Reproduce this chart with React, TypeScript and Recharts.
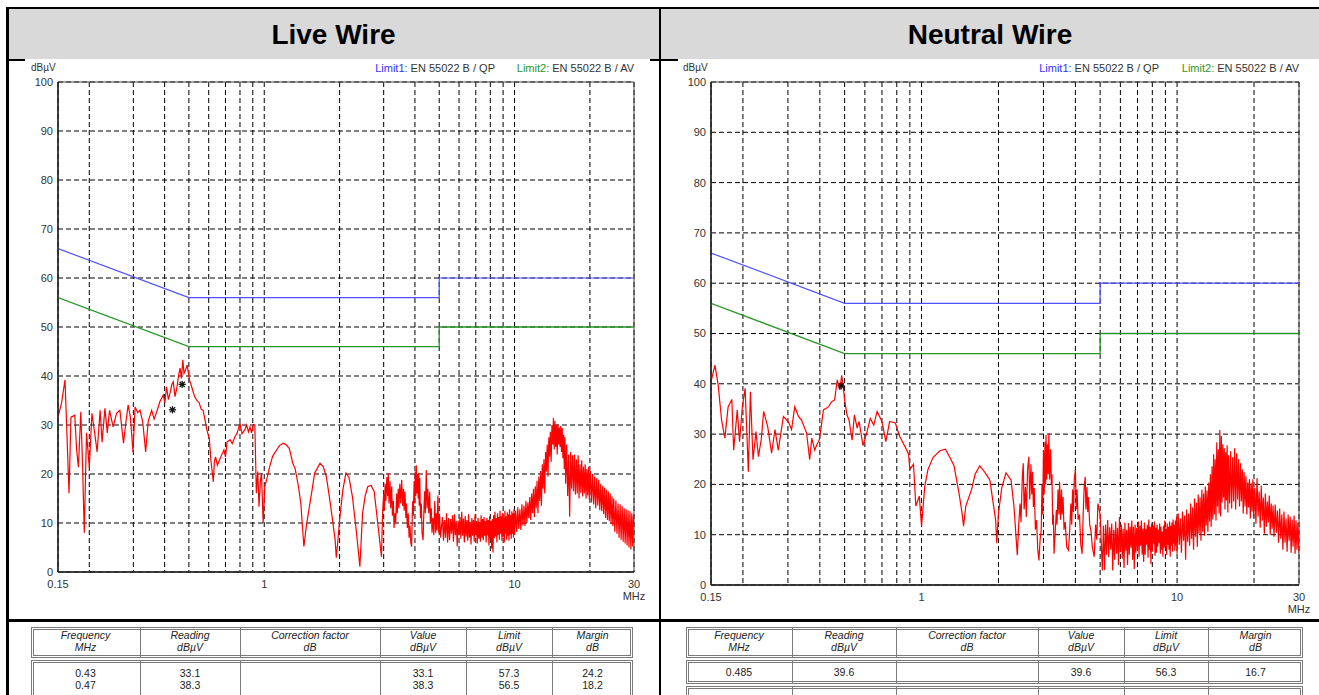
import React from 'react';
import { ComposedChart, Line, XAxis, YAxis, CartesianGrid, ReferenceArea } from 'recharts';

type Pt = [number, number];

const FONT = '"Liberation Sans", Arial, Helvetica, sans-serif';

// ---- axes ----
const gridFreqs = [0.15, 0.2, 0.3, 0.4, 0.5, 0.6, 0.7, 0.8, 0.9, 1, 2, 3, 4, 5, 6, 7, 8, 9, 10, 20, 30];
const labeledFreqs = [0.15, 1, 10, 30];
const levelTicks = [0, 10, 20, 30, 40, 50, 60, 70, 80, 90, 100];

// ---- limits (MHz, dBµV) ----
const qpLimit: Pt[] = [[0.15, 66], [0.5, 56], [5, 56], [5, 60], [30, 60]];
const avLimit: Pt[] = [[0.15, 56], [0.5, 46], [5, 46], [5, 50], [30, 50]];

// ---- live wire scan (MHz, dBµV) ----
const liveScan: Pt[] = [
  [0.15, 31.6], [0.155, 34.5], [0.16, 39.2], [0.166, 16.1], [0.169, 31.6], [0.175, 32.0], [0.178, 25], [0.181, 21.4],
  [0.185, 32.7], [0.188, 22], [0.191, 8.0], [0.195, 28.4], [0.2, 21.4], [0.205, 32.4], [0.21, 28.5], [0.215, 24.5],
  [0.221, 33.0], [0.225, 26.5], [0.231, 33.4], [0.236, 28.4], [0.241, 33.0], [0.249, 29.6], [0.257, 32.4], [0.265, 33.0],
  [0.274, 26.3], [0.28, 30.5], [0.286, 34.1], [0.292, 31.5], [0.299, 24.5], [0.305, 33.7], [0.312, 32.5], [0.319, 33.0],
  [0.327, 30.6], [0.336, 24.5], [0.344, 30.8], [0.355, 33.0], [0.363, 31.2], [0.372, 32.7], [0.383, 34.8], [0.395, 36.1],
  [0.401, 34.5], [0.407, 37.8], [0.414, 35.2], [0.42, 36.4], [0.427, 38.2], [0.433, 38.8], [0.44, 35.8], [0.447, 37.4],
  [0.455, 40.2], [0.461, 41.6], [0.467, 39.5], [0.473, 43.3], [0.478, 40.5], [0.483, 41.0], [0.492, 42.2], [0.503, 39.2],
  [0.515, 37.5], [0.527, 35.8], [0.538, 35.0], [0.55, 34.5], [0.56, 33.2], [0.57, 33.0], [0.58, 31.0], [0.59, 29.0],
  [0.604, 27.0], [0.612, 22.9], [0.626, 18.4], [0.632, 22.5], [0.639, 23.5], [0.65, 21.8], [0.663, 22.9], [0.675, 23.8],
  [0.69, 24.9], [0.7, 23.5], [0.71, 26.5], [0.73, 27.0], [0.745, 26.2], [0.764, 27.6], [0.78, 28.4], [0.8, 30.4],
  [0.815, 28.2], [0.836, 29.0], [0.85, 30.0], [0.865, 28.6], [0.877, 29.6], [0.89, 28.4], [0.905, 30.1], [0.917, 30.0],
  [0.93, 16.1], [0.942, 20.5], [0.953, 13.3], [0.965, 18.5], [0.975, 20.2], [0.99, 10.0], [1.005, 17.4], [1.03, 19.5],
  [1.05, 21.4], [1.08, 23.6], [1.12, 24.9], [1.15, 25.8], [1.19, 26.3], [1.22, 26.0], [1.26, 25.2], [1.3, 22.2],
  [1.33, 21.0], [1.37, 17.4], [1.4, 14.0], [1.42, 9.5], [1.44, 5.2], [1.47, 9.0], [1.5, 12.0], [1.55, 16.5],
  [1.59, 20.2], [1.63, 21.2], [1.67, 22.2], [1.72, 21.5], [1.77, 19.5], [1.82, 15.4], [1.87, 11.0], [1.92, 6.5],
  [1.94, 2.9], [1.97, 6.5], [2.0, 10.6], [2.06, 16.7], [2.12, 20.2], [2.18, 19.3], [2.25, 15.4], [2.33, 8.6],
  [2.41, 1.1], [2.47, 12.0], [2.53, 15.5], [2.59, 17.4], [2.67, 17.7], [2.75, 16.4], [2.85, 9.3], [2.94, 3.1],
  [2.97, 12.0], [3.0, 16.0], [3.02, 12.5], [3.04, 18.0], [3.06, 14.5], [3.09, 19.4], [3.11, 15.5], [3.13, 20.2],
  [3.15, 14.0], [3.18, 18.5], [3.2, 13.0], [3.23, 17.5], [3.25, 11.5], [3.28, 14.5], [3.3, 9.0], [3.33, 12.0],
  [3.35, 10.0], [3.38, 16.0], [3.4, 12.0], [3.43, 17.0], [3.45, 13.0], [3.48, 18.0], [3.51, 14.0], [3.54, 18.8],
  [3.57, 13.5], [3.6, 17.0], [3.62, 12.5], [3.65, 16.4], [3.68, 11.0], [3.7, 14.0], [3.73, 9.0], [3.76, 12.0],
  [3.79, 7.0], [3.82, 9.5], [3.85, 6.0], [3.88, 5.2], [3.9, 11.0], [3.92, 14.5], [3.94, 11.5], [3.97, 18.5],
  [3.99, 14.0], [4.01, 20.5], [4.03, 15.5], [4.05, 21.8], [4.07, 16.0], [4.1, 20.0], [4.12, 15.0], [4.14, 20.2],
  [4.16, 13.5], [4.18, 19.2], [4.21, 11.0], [4.24, 14.0], [4.27, 8.0], [4.31, 6.5], [4.34, 12.0], [4.37, 16.5],
  [4.4, 12.0], [4.44, 20.8], [4.47, 13.0], [4.5, 17.0], [4.54, 12.0], [4.58, 16.4], [4.61, 10.0], [4.65, 13.0],
  [4.68, 8.0], [4.72, 11.0], [4.76, 7.5], [4.8, 14.5], [4.84, 8.0], [4.87, 12.0], [4.9, 8.5], [4.94, 15.6],
  [4.98, 8.0], [5.02, 11.5], [5.06, 7.0], [5.1, 9.0],
  [5.15, 11.2], [5.2, 6.4], [5.25, 10.6], [5.3, 7.0], [5.35, 12.0], [5.4, 6.0], [5.45, 11.0], [5.5, 6.5],
  [5.55, 10.8], [5.6, 7.8], [5.65, 11.6], [5.7, 6.2], [5.75, 11.8], [5.8, 7.5], [5.85, 10.4], [5.9, 5.2],
  [5.95, 10.5], [6.0, 7.6], [6.05, 11.2], [6.1, 6.8], [6.15, 12.3], [6.2, 7.4], [6.25, 10.9], [6.3, 6.0],
  [6.35, 11.4], [6.4, 7.2], [6.45, 10.6], [6.5, 6.4], [6.55, 11.8], [6.6, 7.0], [6.65, 10.2], [6.7, 5.6],
  [6.75, 11.0], [6.8, 7.4], [6.85, 10.6], [6.9, 6.2], [6.95, 11.8], [7.0, 7.5], [7.05, 10.4], [7.1, 5.8],
  [7.15, 11.0], [7.2, 6.8], [7.25, 10.2], [7.3, 6.2], [7.35, 11.6], [7.4, 7.0], [7.45, 10.8], [7.5, 6.5],
  [7.55, 11.2], [7.6, 7.4], [7.65, 10.4], [7.7, 6.0], [7.75, 11.0], [7.8, 7.5], [7.85, 10.6], [7.9, 5.4],
  [7.95, 11.4], [8.0, 6.8], [8.05, 10.4], [8.1, 4.8], [8.15, 10.8], [8.2, 4.0], [8.25, 11.6], [8.3, 6.9],
  [8.35, 12.3], [8.4, 7.3], [8.45, 11.0], [8.5, 6.0], [8.55, 12.0], [8.6, 7.6], [8.65, 11.2], [8.7, 6.6],
  [8.75, 12.5], [8.8, 7.8], [8.85, 11.4], [8.9, 6.4], [8.95, 12.0], [9.0, 7.2], [9.05, 11.0], [9.1, 6.0],
  [9.15, 12.5], [9.2, 7.8], [9.25, 11.4], [9.3, 6.6], [9.35, 12.2], [9.4, 7.4], [9.45, 11.8], [9.5, 6.4],
  [9.55, 12.8], [9.6, 7.6], [9.65, 11.6], [9.7, 6.8], [9.75, 12.4], [9.8, 7.8], [9.85, 12.0], [9.9, 7.0],
  [9.95, 12.8], [10.0, 7.6],
  [10.1, 12.5], [10.2, 8.2], [10.3, 13.2], [10.4, 8.8], [10.5, 12.8], [10.6, 8.6], [10.7, 13.8], [10.8, 9.5],
  [10.9, 13.5], [11.0, 9.4], [11.1, 14.5], [11.2, 10.0], [11.3, 14.2], [11.4, 11.0], [11.5, 15.3], [11.6, 10.6],
  [11.7, 16.0], [11.8, 12.0], [11.9, 17.0], [12.0, 11.2], [12.1, 17.5], [12.2, 13.0], [12.3, 18.6], [12.4, 12.0],
  [12.5, 19.5], [12.6, 14.5], [12.7, 20.6], [12.8, 13.5], [12.9, 22.0], [13.0, 17.0], [13.1, 23.0], [13.2, 16.0],
  [13.3, 24.5], [13.4, 20.5], [13.5, 26.0], [13.6, 19.5], [13.7, 27.5], [13.8, 23.5], [13.9, 28.6], [14.0, 22.5],
  [14.1, 30.0], [14.2, 26.0], [14.3, 31.4], [14.4, 25.0], [14.5, 30.8], [14.6, 25.5], [14.7, 30.0], [14.8, 24.0],
  [14.9, 30.2], [15.0, 26.0], [15.1, 29.5], [15.2, 25.5], [15.3, 29.8], [15.4, 24.5], [15.5, 29.4], [15.6, 23.2],
  [15.7, 28.0], [15.8, 21.0], [15.9, 27.5], [16.0, 18.0], [16.15, 26.0], [16.3, 15.5], [16.45, 24.0], [16.6, 11.3],
  [16.75, 24.5], [16.9, 17.0], [17.05, 23.8], [17.2, 16.5], [17.35, 24.0], [17.5, 15.8], [17.65, 23.0], [17.8, 16.0],
  [17.95, 23.8], [18.1, 15.0], [18.25, 22.0], [18.4, 16.2], [18.55, 22.8], [18.7, 15.4], [18.85, 21.5], [19.0, 16.0],
  [19.15, 22.0], [19.3, 15.0], [19.45, 21.0], [19.6, 15.6], [19.75, 21.5], [19.9, 14.8], [20.1, 20.6], [20.3, 14.2],
  [20.5, 20.0], [20.7, 13.8], [20.9, 19.5], [21.1, 13.0], [21.3, 19.2], [21.5, 13.6], [21.7, 18.8], [21.9, 12.6],
  [22.1, 18.0], [22.3, 12.4], [22.5, 17.6], [22.7, 11.8], [22.9, 17.2], [23.1, 11.0], [23.3, 16.8], [23.5, 10.6],
  [23.7, 16.4], [23.9, 10.4], [24.1, 16.0], [24.3, 9.8], [24.5, 15.4], [24.7, 9.4], [24.9, 15.0], [25.15, 8.2],
  [25.4, 14.6], [25.65, 7.8], [25.9, 14.0], [26.15, 7.0], [26.4, 13.8], [26.65, 6.6], [26.9, 13.4], [27.15, 6.2],
  [27.4, 13.0], [27.65, 5.8], [27.9, 12.8], [28.15, 5.4], [28.4, 12.6], [28.65, 5.0], [28.9, 12.4], [29.15, 4.6],
  [29.4, 12.0], [29.65, 5.2], [29.85, 11.5], [30.0, 9.2],
];

// ---- neutral wire scan (MHz, dBµV) ----
const neutralScan: Pt[] = [
  [0.15, 40.4], [0.1554, 43.7], [0.16, 39.8], [0.165, 32.8], [0.17, 29.2], [0.175, 35.4], [0.181, 36.9], [0.184, 26.8],
  [0.19, 34.8], [0.194, 28.5], [0.199, 35.4], [0.204, 39.1], [0.21, 22.5], [0.214, 38.4], [0.219, 24.9], [0.225, 30.5],
  [0.23, 25.5], [0.236, 29.0], [0.241, 34.5], [0.25, 31.5], [0.259, 26.2], [0.267, 30.9], [0.275, 26.8], [0.288, 33.5],
  [0.301, 32.5], [0.31, 30.9], [0.319, 35.4], [0.33, 33.5], [0.339, 32.8], [0.355, 30.2], [0.365, 24.9], [0.372, 29.2],
  [0.382, 26.8], [0.39, 28.0], [0.398, 28.8], [0.405, 31.5], [0.413, 34.8], [0.432, 35.4], [0.444, 36.4], [0.457, 36.8],
  [0.468, 40.8], [0.479, 38.8], [0.487, 41.7], [0.494, 39.4], [0.5, 36.8], [0.511, 33.8], [0.52, 32.8], [0.535, 28.8],
  [0.546, 33.8], [0.56, 31.2], [0.57, 32.5], [0.59, 27.7], [0.61, 30.2], [0.63, 33.1], [0.65, 31.8], [0.67, 34.5],
  [0.7, 32.5], [0.725, 28.5], [0.75, 32.5], [0.79, 32.2], [0.82, 29.6], [0.86, 27.6], [0.89, 26.0], [0.9, 23.0],
  [0.93, 24.0], [0.95, 15.7], [0.98, 17.7], [1.0, 11.7], [1.03, 19.7], [1.06, 23.0], [1.11, 25.4], [1.18, 26.7],
  [1.24, 27.0], [1.29, 25.4], [1.34, 23.7], [1.4, 18.4], [1.44, 14.4], [1.46, 11.7], [1.49, 15.7], [1.57, 19.0],
  [1.62, 22.0], [1.69, 23.7], [1.77, 22.4], [1.85, 20.9], [1.95, 12.9], [1.97, 8.3], [2.0, 14.2], [2.06, 19.3],
  [2.14, 22.3], [2.24, 20.9], [2.3, 15.6], [2.37, 5.9], [2.4, 12.0], [2.43, 16.2], [2.45, 12.5], [2.48, 21.5],
  [2.5, 24.2], [2.52, 15.0], [2.55, 19.5], [2.57, 13.5], [2.6, 23.0], [2.63, 25.5], [2.65, 17.0], [2.68, 24.0],
  [2.7, 18.0], [2.72, 22.5], [2.74, 15.5], [2.76, 19.3], [2.79, 11.0], [2.82, 12.9], [2.85, 7.0], [2.88, 4.9],
  [2.91, 9.0], [2.94, 10.9], [2.96, 20.0], [2.98, 14.0], [3.0, 26.8], [3.02, 18.0], [3.04, 28.5], [3.06, 20.0],
  [3.07, 29.8], [3.09, 21.0], [3.11, 28.0], [3.13, 22.0], [3.15, 30.1], [3.17, 21.0], [3.2, 27.0], [3.22, 20.0],
  [3.24, 22.0], [3.26, 12.0], [3.28, 14.0], [3.3, 6.2], [3.33, 10.0], [3.37, 14.9], [3.39, 12.0], [3.42, 19.0],
  [3.45, 14.0], [3.47, 20.5], [3.5, 13.0], [3.53, 19.0], [3.55, 14.0], [3.58, 17.5], [3.61, 11.0], [3.65, 12.5],
  [3.7, 7.5], [3.76, 6.9], [3.8, 11.0], [3.84, 16.2], [3.87, 12.0], [3.9, 19.0], [3.93, 14.5], [3.96, 21.0],
  [4.0, 22.9], [4.03, 15.0], [4.06, 19.0], [4.1, 13.0], [4.15, 14.0], [4.2, 8.0], [4.25, 6.2], [4.29, 14.0],
  [4.33, 19.5], [4.37, 21.5], [4.4, 15.0], [4.44, 19.5], [4.47, 14.5], [4.5, 17.5], [4.55, 12.0], [4.6, 10.9],
  [4.66, 7.5], [4.74, 5.6], [4.8, 12.0], [4.85, 9.0], [4.9, 16.2], [5.0, 14.0], [5.1, 2.9],
  [5.15, 11.8], [5.2, 3.0], [5.25, 12.0], [5.3, 6.0], [5.35, 12.9], [5.4, 5.5], [5.45, 11.5], [5.5, 7.0],
  [5.55, 12.2], [5.6, 2.9], [5.65, 11.0], [5.7, 5.0], [5.75, 12.6], [5.8, 6.2], [5.85, 11.4], [5.9, 4.0],
  [5.95, 13.5], [6.0, 6.5], [6.05, 12.0], [6.1, 5.2], [6.15, 11.2], [6.2, 3.4], [6.25, 12.4], [6.3, 6.8],
  [6.35, 11.0], [6.4, 4.0], [6.45, 12.3], [6.5, 6.0], [6.55, 11.6], [6.6, 7.4], [6.65, 12.8], [6.7, 5.0],
  [6.75, 11.6], [6.8, 3.2], [6.85, 12.0], [6.9, 6.4], [6.95, 11.4], [7.0, 7.2], [7.05, 12.6], [7.1, 5.6],
  [7.15, 11.8], [7.2, 7.8], [7.25, 12.8], [7.3, 6.0], [7.35, 11.2], [7.4, 4.6], [7.45, 12.4], [7.5, 6.0],
  [7.55, 11.2], [7.6, 8.0], [7.65, 12.0], [7.7, 5.4], [7.75, 13.0], [7.8, 7.0], [7.85, 11.6], [7.9, 4.2],
  [7.95, 12.2], [8.0, 6.6], [8.05, 11.8], [8.1, 8.2], [8.15, 12.6], [8.2, 5.8], [8.25, 11.4], [8.3, 6.4],
  [8.35, 12.0], [8.4, 7.6], [8.45, 11.0], [8.5, 8.4], [8.55, 12.2], [8.6, 6.2], [8.65, 11.6], [8.7, 7.0],
  [8.75, 10.6], [8.8, 5.6], [8.85, 11.8], [8.9, 7.4], [8.95, 12.8], [9.0, 7.8], [9.05, 11.2], [9.1, 6.0],
  [9.15, 12.2], [9.2, 8.0], [9.25, 11.6], [9.3, 7.0], [9.35, 12.6], [9.4, 5.6], [9.45, 11.8], [9.5, 7.8],
  [9.55, 12.4], [9.6, 6.6], [9.65, 13.0], [9.7, 8.2], [9.75, 12.0], [9.8, 6.8], [9.85, 12.8], [9.9, 7.8],
  [9.95, 13.6], [10.0, 6.2],
  [10.1, 14.2], [10.2, 8.0], [10.3, 13.2], [10.4, 6.4], [10.5, 14.6], [10.6, 8.8], [10.7, 13.8], [10.8, 5.0],
  [10.9, 15.0], [11.0, 8.6], [11.1, 14.2], [11.2, 7.8], [11.3, 16.2], [11.4, 9.2], [11.5, 15.4], [11.6, 7.0],
  [11.7, 17.2], [11.8, 9.6], [11.9, 16.4], [12.0, 7.6], [12.1, 18.0], [12.2, 10.2], [12.3, 17.4], [12.4, 8.8],
  [12.5, 19.0], [12.6, 10.6], [12.7, 18.2], [12.8, 9.8], [12.9, 19.6], [13.0, 11.8], [13.1, 18.8], [13.2, 10.6],
  [13.3, 20.4], [13.4, 12.6], [13.5, 22.0], [13.6, 11.6], [13.7, 23.6], [13.8, 13.0], [13.9, 26.0], [14.0, 14.0],
  [14.1, 25.0], [14.2, 12.8], [14.3, 28.4], [14.4, 15.6], [14.5, 27.0], [14.6, 14.2], [14.7, 30.8], [14.8, 13.6],
  [14.9, 29.6], [15.0, 16.4], [15.1, 28.0], [15.2, 17.4], [15.3, 27.2], [15.4, 15.0], [15.5, 26.4], [15.6, 16.8],
  [15.7, 27.8], [15.8, 14.4], [15.9, 25.8], [16.05, 16.2], [16.2, 26.6], [16.35, 15.2], [16.5, 25.4], [16.65, 16.6],
  [16.8, 27.2], [16.95, 15.0], [17.1, 26.2], [17.25, 17.0], [17.4, 25.0], [17.55, 15.6], [17.7, 24.2], [17.85, 16.6],
  [18.0, 23.0], [18.15, 14.2], [18.3, 22.4], [18.45, 15.6], [18.6, 21.6], [18.75, 14.0], [18.9, 20.4], [19.05, 15.4],
  [19.2, 21.0], [19.35, 13.2], [19.5, 20.2], [19.65, 14.6], [19.8, 21.0], [19.95, 13.4],
  [20.15, 19.4], [20.35, 12.2], [20.55, 21.2], [20.75, 13.6], [20.95, 18.6], [21.15, 11.4], [21.35, 19.8], [21.55, 12.8],
  [21.75, 17.4], [21.95, 10.2], [22.15, 18.2], [22.35, 11.6], [22.55, 16.6], [22.75, 12.4], [22.95, 17.8], [23.15, 10.0],
  [23.35, 16.2], [23.55, 11.2], [23.75, 15.8], [23.95, 9.6], [24.2, 16.0], [24.45, 10.4], [24.7, 14.8], [24.95, 8.4],
  [25.2, 15.2], [25.45, 9.2], [25.7, 14.0], [25.95, 7.0], [26.2, 14.6], [26.45, 8.4], [26.7, 13.2], [26.95, 6.6],
  [27.2, 14.0], [27.45, 8.8], [27.7, 13.6], [27.95, 6.4], [28.2, 13.0], [28.45, 7.6], [28.7, 13.8], [28.95, 6.2],
  [29.2, 12.8], [29.45, 7.0], [29.7, 12.4], [30.0, 6.3],
];

// ---- marked peaks ----
const livePeaks: Pt[] = [[0.43, 33.1], [0.47, 38.3]];
const neutralPeaks: Pt[] = [[0.485, 39.6]];

// ---- tables ----
const tableHeaders = [
  ['Frequency', 'MHz'], ['Reading', 'dBµV'], ['Correction factor', 'dB'],
  ['Value', 'dBµV'], ['Limit', 'dBµV'], ['Margin', 'dB'],
];
const liveFrequency = ['0.43', '0.47'];
const liveReading = ['33.1', '38.3'];
const liveCorrection = ['', ''];
const liveValue = ['33.1', '38.3'];
const liveLimit = ['57.3', '56.5'];
const liveMargin = ['24.2', '18.2'];

const neutralFrequency = ['0.485'];
const neutralReading = ['39.6'];
const neutralCorrection = [''];
const neutralValue = ['39.6'];
const neutralLimit = ['56.3'];
const neutralMargin = ['16.7'];

const toRows = (pts: Pt[], key: string) => pts.map(([f, v]) => ({ f, [key]: v }));

const FreqTick = (props: any) => {
  const { x, y, payload } = props;
  const v = payload?.value;
  if (!labeledFreqs.includes(v)) return <g />;
  return (
    <g>
      <text x={x} y={y} dy="0.71em" textAnchor="middle" fontSize={11} fill="#333" fontFamily={FONT}>
        {String(v)}
      </text>
      {v === 30 && (
        <text x={x} y={y + 12} dy="0.71em" textAnchor="middle" fontSize={11} fill="#333" fontFamily={FONT}>
          MHz
        </text>
      )}
    </g>
  );
};

const Asterisk = ({ cx, cy }: { cx: number; cy: number }) => {
  const r = 3.6;
  const d = r * 0.72;
  return (
    <g stroke="#111" strokeWidth={1.3}>
      <line x1={cx - r} y1={cy} x2={cx + r} y2={cy} />
      <line x1={cx} y1={cy - r} x2={cx} y2={cy + r} />
      <line x1={cx - d} y1={cy - d} x2={cx + d} y2={cy + d} />
      <line x1={cx - d} y1={cy + d} x2={cx + d} y2={cy - d} />
    </g>
  );
};

function EmiChart(props: {
  width: number; height: number;
  margin: { top: number; right: number; bottom: number; left: number };
  scan: Pt[]; peaks: Pt[];
}) {
  const { width, height, margin, scan, peaks } = props;
  return (
    <ComposedChart width={width} height={height} margin={margin}>
      <CartesianGrid stroke="#000" strokeDasharray="5 3" strokeWidth={1} />
      <XAxis
        dataKey="f" type="number" scale="log" domain={[0.15, 30]} ticks={gridFreqs} interval={0}
        allowDataOverflow tick={FreqTick} tickLine={false}
        axisLine={{ stroke: '#222', strokeWidth: 1.5 }} height={30} tickSize={6} tickMargin={2}
      />
      <YAxis
        type="number" domain={[0, 100]} ticks={levelTicks} interval={0} tickLine={false}
        axisLine={{ stroke: '#222', strokeWidth: 1.5 }} width={30} tickSize={3} tickMargin={2}
        tick={{ fontSize: 11, fill: '#333', fontFamily: FONT }}
      />
      <ReferenceArea x1={0.15} x2={30} y1={0} y2={100} fill="none" stroke="#444" strokeWidth={1} ifOverflow="visible" />
      <Line data={toRows(qpLimit, 'qp')} dataKey="qp" stroke="#5050ff" strokeWidth={1.2} dot={false} activeDot={false} isAnimationActive={false} />
      <Line data={toRows(avLimit, 'av')} dataKey="av" stroke="#2a962a" strokeWidth={1.3} dot={false} activeDot={false} isAnimationActive={false} />
      <Line data={toRows(scan, 'level')} dataKey="level" stroke="#ff0000" strokeWidth={1.2} dot={false} activeDot={false} isAnimationActive={false} />
      <Line
        data={toRows(peaks, 'peak')} dataKey="peak" stroke="none" activeDot={false} isAnimationActive={false}
        dot={(p: any) => <Asterisk key={`pk-${p.index}`} cx={p.cx} cy={p.cy} />}
      />
    </ComposedChart>
  );
}

const abs = (l: number, t: number, w: number, h: number, extra: React.CSSProperties = {}): React.CSSProperties => ({
  position: 'absolute', left: l, top: t, width: w, height: h, ...extra,
});

function ResultTable(props: { cols: number[]; columns: string[][]; dataHeight: number; lineTop: number; extraRow?: boolean }) {
  const { cols, columns, dataHeight, lineTop, extraRow } = props;
  const x0 = cols[0];
  const w = cols[cols.length - 1] - x0;
  const border = '3px double #7a7a7a';
  const seps = (top: number, h: number) =>
    cols.slice(1, -1).map((c, i) => <div key={`s${top}-${i}`} style={abs(c, top, 1, h, { background: '#7a7a7a' })} />);
  return (
    <>
      <div style={abs(x0, 627, w, 31, { border, boxSizing: 'border-box' })} />
      {seps(627, 31)}
      {tableHeaders.map((h, i) => (
        <div key={`h${i}`} style={abs(cols[i], 630, cols[i + 1] - cols[i], 24, {
          textAlign: 'center', fontStyle: 'italic', fontSize: 10.5, lineHeight: '11.5px', color: '#222',
        })}>
          {h[0]}<br />{h[1]}
        </div>
      ))}
      <div style={abs(x0, 660, w, dataHeight, { border, boxSizing: 'border-box' })} />
      {seps(660, dataHeight)}
      {columns.map((vals, i) => (
        <div key={`d${i}`} style={abs(cols[i], lineTop, cols[i + 1] - cols[i], 30, {
          textAlign: 'center', fontSize: 10.5, lineHeight: '12px', color: '#222',
        })}>
          {vals.map((v, j) => <div key={j}>{v || '\u00a0'}</div>)}
        </div>
      ))}
      {extraRow && (
        <>
          <div style={abs(x0, 686, w, 20, { border, boxSizing: 'border-box' })} />
          {seps(686, 20)}
        </>
      )}
    </>
  );
}

export default function App() {
  const legend = (rightQP: number, rightAV: number) => (
    <>
      <div style={{ position: 'absolute', right: rightQP, top: 62, fontSize: 11, lineHeight: '12px', color: '#333', whiteSpace: 'nowrap' }}>
        <span style={{ color: '#3333ff' }}>Limit1:</span> EN 55022 B / QP
      </div>
      <div style={{ position: 'absolute', right: rightAV, top: 62, fontSize: 11, lineHeight: '12px', color: '#333', whiteSpace: 'nowrap' }}>
        <span style={{ color: '#2a962a' }}>Limit2:</span> EN 55022 B / AV
      </div>
    </>
  );

  return (
    <div style={{ position: 'absolute', left: 0, top: 0, width: 1319, height: 695, overflow: 'hidden', background: '#fff', fontFamily: FONT }}>
      {/* header band */}
      <div style={abs(8, 9, 1311, 50, { background: '#d9d9d9' })} />
      <div style={abs(8, 10, 651, 50, { display: 'flex', alignItems: 'center', justifyContent: 'center', fontSize: 28, fontWeight: 'bold', color: '#000' })}>
        Live Wire
      </div>
      <div style={abs(661, 10, 658, 50, { display: 'flex', alignItems: 'center', justifyContent: 'center', fontSize: 28, fontWeight: 'bold', color: '#000' })}>
        Neutral Wire
      </div>

      {/* frame lines */}
      <div style={abs(6, 7, 1313, 2, { background: '#000' })} />
      <div style={abs(6, 7, 2.5, 688, { background: '#000' })} />
      <div style={abs(659, 7, 2, 688, { background: '#000' })} />
      <div style={abs(8, 59, 17, 2, { background: '#000' })} />
      <div style={abs(650, 59, 28, 2, { background: '#000' })} />
      <div style={abs(6, 619, 1313, 3, { background: '#000' })} />

      {/* left chart */}
      <div style={{ position: 'absolute', left: 31, top: 62, fontSize: 10, lineHeight: '12px', color: '#333' }}>dBµV</div>
      {legend(824, 685)}
      <div style={abs(25, 60, 625, 558)}>
        <EmiChart width={625} height={558} margin={{ top: 22, right: 16, bottom: 16, left: 3 }} scan={liveScan} peaks={livePeaks} />
      </div>

      {/* right chart */}
      <div style={{ position: 'absolute', left: 683, top: 62, fontSize: 10, lineHeight: '12px', color: '#333' }}>dBµV</div>
      {legend(160, 20)}
      <div style={abs(678, 60, 639, 558)}>
        <EmiChart width={639} height={558} margin={{ top: 22, right: 18, bottom: 3, left: 3 }} scan={neutralScan} peaks={neutralPeaks} />
      </div>

      {/* tables */}
      <ResultTable
        cols={[31, 140, 240, 380, 466, 552, 633]}
        columns={[liveFrequency, liveReading, liveCorrection, liveValue, liveLimit, liveMargin]}
        dataHeight={50} lineTop={667}
      />
      <ResultTable
        cols={[686, 792, 896, 1038, 1124, 1208, 1303]}
        columns={[neutralFrequency, neutralReading, neutralCorrection, neutralValue, neutralLimit, neutralMargin]}
        dataHeight={24} lineTop={666} extraRow
      />
    </div>
  );
}
